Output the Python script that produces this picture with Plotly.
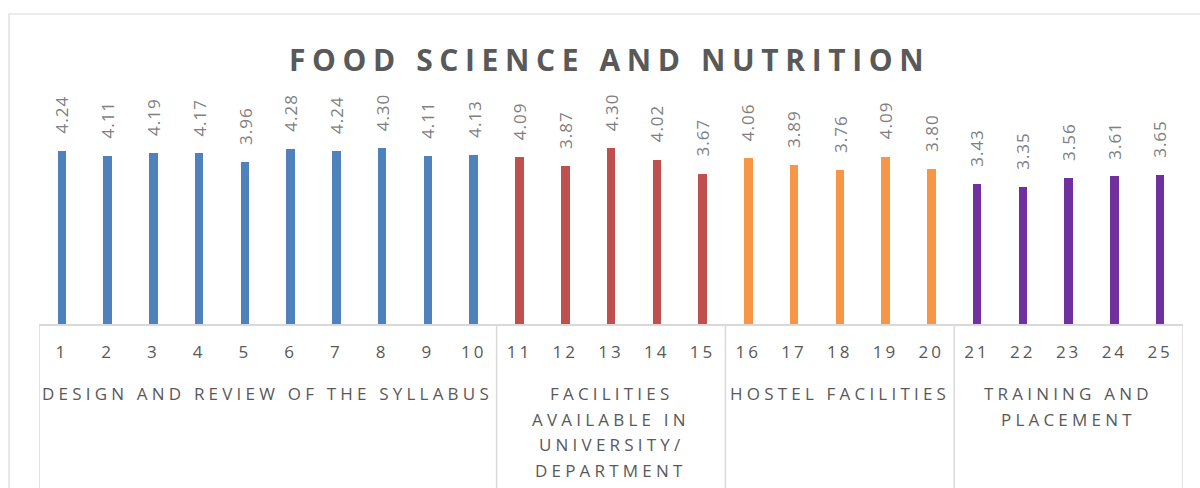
import plotly.graph_objects as go

# ---- data ----
items = [str(i) for i in range(1, 26)]
scores = [4.24, 4.11, 4.19, 4.17, 3.96, 4.28, 4.24, 4.30, 4.11, 4.13,
          4.09, 3.87, 4.30, 4.02, 3.67,
          4.06, 3.89, 3.76, 4.09, 3.80,
          3.43, 3.35, 3.56, 3.61, 3.65]
group_names = ["DESIGN AND REVIEW OF THE SYLLABUS",
               "FACILITIES<br>AVAILABLE IN<br>UNIVERSITY/<br>DEPARTMENT",
               "HOSTEL FACILITIES",
               "TRAINING AND<br>PLACEMENT"]
group_sizes = [10, 5, 5, 5]
group_colors = ["#4F81BD", "#C0504D", "#F79646", "#7030A0"]
title_text = "FOOD SCIENCE AND NUTRITION"

# ---- layout constants ----
W, H = 1200, 488
ML, MR, MT, MB = 39, 17, 20, 164
PX_PER_UNIT = 40.9
plot_h = H - MT - MB
ymax = plot_h / PX_PER_UNIT

xs = list(range(1, len(items) + 1))
colors = []
group_bounds = []
start = 1
for size, col in zip(group_sizes, group_colors):
    colors += [col] * size
    group_bounds.append((start, start + size - 1))
    start += size

def spaced(t, px):
    return f'<span style="letter-spacing:{px}px">{t}</span>'

fig = go.Figure()
fig.add_trace(go.Bar(x=xs, y=scores, marker=dict(color=colors, line=dict(width=0)),
                     width=0.186, hoverinfo="x+y"))

# value labels
for x, v in zip(xs, scores):
    fig.add_annotation(x=x, y=v, text=spaced(f"{v:.2f}", 1), textangle=-90,
                       showarrow=False, yanchor="bottom", xanchor="center", yshift=15,
                       font=dict(family="Open Sans", size=17, color="#7F7F7F"))

shapes = []
# vertical separators below axis
sep_positions = [0.5] + [b[1] + 0.5 for b in group_bounds]
for sx in sep_positions:
    shapes.append(dict(type="line", xref="x", yref="paper", ysizemode="pixel",
                       yanchor=0, x0=sx, x1=sx, y0=0, y1=-(MB + 5),
                       line=dict(color="#D9D9D9", width=1.5)))
# outer chart border (partially off-page)
shapes.append(dict(type="rect", xref="paper", yref="paper", xsizemode="pixel",
                   ysizemode="pixel", xanchor=0, yanchor=1,
                   x0=-(ML - 9), x1=W, y0=(MT - 14), y1=-(H + 20),
                   line=dict(color="#D9D9D9", width=1.2), fillcolor="rgba(0,0,0,0)"))

# group labels
LINE1 = 393.3 - (H - MB)
LINE_GAP = 25.7
for (a, b), name in zip(group_bounds, group_names):
    for k, line in enumerate(name.split("<br>")):
        fig.add_annotation(x=(a + b) / 2, xref="x", y=0, yref="paper",
                           yanchor="middle", xanchor="center", showarrow=False,
                           yshift=-(LINE1 + k * LINE_GAP), text=spaced(line, 4.2),
                           font=dict(family="Open Sans", size=17, color="#595959"))

fig.update_layout(
    width=W, height=H, autosize=False,
    margin=dict(l=ML, r=MR, t=MT, b=MB, pad=0),
    paper_bgcolor="white", plot_bgcolor="white",
    showlegend=False, bargap=0,
    shapes=shapes,
    title=dict(text=spaced(title_text, 6.6), x=0.508, xanchor="center",
               y=1 - 60 / H, yanchor="middle", yref="container",
               font=dict(family="Open Sans", size=30, color="#595959", weight="bold")),
    xaxis=dict(range=[0.5, len(items) + 0.5], tickmode="array", tickvals=xs,
               ticktext=[spaced(t, 3) for t in items], showgrid=False, zeroline=False,
               showline=True, linecolor="#D9D9D9", linewidth=1.5, ticks="",
               ticklabelstandoff=12,
               tickfont=dict(family="Open Sans", size=17, color="#595959")),
    yaxis=dict(range=[0, ymax], visible=False, showgrid=False, zeroline=False),
)

fig.write_html("out.html", config={"displayModeBar": False},
               post_script="document.body.style.margin='0';document.body.style.overflow='hidden';")
